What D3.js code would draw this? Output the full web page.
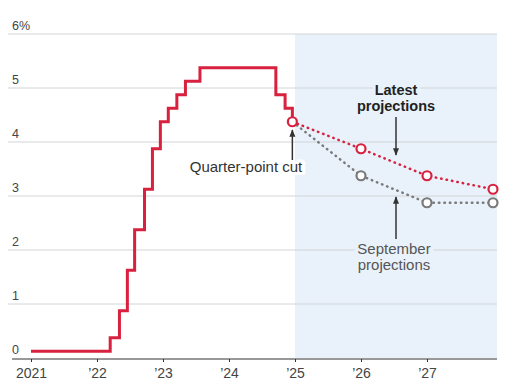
<!DOCTYPE html>
<html>
<head>
<meta charset="utf-8">
<script src="https://cdn.jsdelivr.net/npm/d3@7"></script>
<style>
  body { margin: 0; background: #fff; }
  svg { display: block; font-family: "Liberation Sans", Arial, sans-serif; }
</style>
</head>
<body>
<div id="chart"></div>
<script>
// fed funds rate (midpoint), decision dates as fractional years
const rateDates = [2021.0, 2022.2, 2022.34, 2022.46, 2022.57, 2022.72, 2022.84, 2022.96,
                   2023.08, 2023.21, 2023.34, 2023.56, 2024.71, 2024.85, 2024.96]
const rateValues = [0.125, 0.375, 0.875, 1.625, 2.375, 3.125, 3.875, 4.375,
                    4.625, 4.875, 5.125, 5.375, 4.875, 4.625, 4.375]

// projections, plotted at year ends
const projDates = [2024.96, 2026, 2027, 2028]
const latestProj = [4.375, 3.875, 3.375, 3.125]
const septProj = [4.375, 3.375, 2.875, 2.875]

const yTicks = [0, 1, 2, 3, 4, 5, 6]
const xTicks = [2021, 2022, 2023, 2024, 2025, 2026, 2027]
const xTickLabels = ["2021", "\u201922", "\u201923", "\u201924", "\u201925", "\u201926", "\u201927"]

const width = 513, height = 388
const red = "#d8213e", grey = "#7a7a7a", shade = "#e9f2fa"

const svg = d3.select("#chart").append("svg")
    .attr("width", width)
    .attr("height", height)

const x = d3.scaleLinear().domain([2021, 2028]).range([31, 493])
const y = d3.scaleLinear().domain([0, 6]).range([358, 34])
const plotRight = 497

// shaded projection area
svg.append("rect")
    .attr("x", x(2025))
    .attr("y", y(6))
    .attr("width", plotRight - x(2025))
    .attr("height", y(0) - y(6))
    .attr("fill", shade)

// gridlines + y labels
const grid = svg.append("g")
grid.selectAll("line")
    .data(yTicks.filter(d => d > 0))
    .join("line")
    .attr("x1", 8).attr("x2", plotRight)
    .attr("y1", d => y(d)).attr("y2", d => y(d))
    .attr("stroke", "#d0d4d8")
    .attr("stroke-width", 1)

grid.selectAll("text")
    .data(yTicks)
    .join("text")
    .attr("x", 12)
    .attr("y", d => y(d) - 4)
    .attr("font-size", 12.5)
    .attr("fill", "#444")
    .text(d => d === 6 ? "6%" : d)

// x axis
const xAxis = svg.append("g")
    .attr("transform", `translate(0,${y(0) + 1})`)
    .call(d3.axisBottom(x).tickValues(xTicks).tickSize(3).tickFormat((d, i) => xTickLabels[i]))
xAxis.select(".domain").remove()
xAxis.append("line")
    .attr("x1", 12).attr("x2", plotRight)
    .attr("stroke", "#333")
xAxis.selectAll(".tick line").attr("stroke", "#333")
xAxis.selectAll(".tick text")
    .attr("font-size", 14)
    .attr("font-family", "Liberation Sans, Arial, sans-serif")
    .attr("fill", "#444")
    .attr("dy", "0.95em")

// actual rate step line
const stepLine = d3.line()
    .x((d, i) => x(rateDates[i]))
    .y(d => y(d))
    .curve(d3.curveStepAfter)

svg.append("path")
    .datum(rateValues)
    .attr("d", stepLine)
    .attr("fill", "none")
    .attr("stroke", red)
    .attr("stroke-width", 3)

// projections
const projLine = d3.line()
    .x((d, i) => x(projDates[i]))
    .y(d => y(d))

function drawProj(values, color) {
    svg.append("path")
        .datum(values)
        .attr("d", projLine)
        .attr("fill", "none")
        .attr("stroke", color)
        .attr("stroke-width", 2.5)
        .attr("stroke-linecap", "round")
        .attr("stroke-dasharray", "0.5,5")
}
drawProj(septProj, grey)
drawProj(latestProj, red)

// circles; first september point is hidden under the latest one
function drawDots(values, color, skipFirst) {
    const pts = values.map((v, i) => [projDates[i], v]).slice(skipFirst ? 1 : 0)
    svg.append("g").selectAll("circle")
        .data(pts)
        .join("circle")
        .attr("cx", d => x(d[0]))
        .attr("cy", d => y(d[1]))
        .attr("r", 4.5)
        .attr("fill", "#fff")
        .attr("stroke", color)
        .attr("stroke-width", 2.2)
}
drawDots(septProj, grey, true)
drawDots(latestProj, red, false)

// annotations
svg.append("defs").append("marker")
    .attr("id", "arrow")
    .attr("viewBox", "0 0 10 10")
    .attr("refX", 9).attr("refY", 5)
    .attr("markerWidth", 5).attr("markerHeight", 5)
    .attr("orient", "auto")
    .append("path")
    .attr("d", "M0,1 L10,5 L0,9 Z")
    .attr("fill", "#333")

function arrow(x0, y0, y1) {
    svg.append("line")
        .attr("x1", x0).attr("x2", x0)
        .attr("y1", y0).attr("y2", y1)
        .attr("stroke", "#333")
        .attr("stroke-width", 1.5)
        .attr("marker-end", "url(#arrow)")
}

function label(lines, cx, top, size, weight, color, halo) {
    const t = svg.append("text")
        .attr("text-anchor", "middle")
        .attr("font-size", size)
        .attr("font-weight", weight)
        .attr("fill", color)
        .attr("stroke", halo)
        .attr("stroke-width", 6)
        .attr("paint-order", "stroke")
    lines.forEach((l, i) => {
        t.append("tspan").attr("x", cx).attr("y", top + i * 16).text(l)
    })
}

arrow(x(2024.96), 160, 130)
label(["Quarter-point cut"], 246, 172, 15, "normal", "#333", "#fff")

arrow(396, 117, 155)
label(["Latest", "projections"], 396, 95, 14.5, "bold", "#222", shade)

arrow(396, 239, 197)
label(["September", "projections"], 394, 254, 15, "normal", "#555", shade)
</script>
</body>
</html>
